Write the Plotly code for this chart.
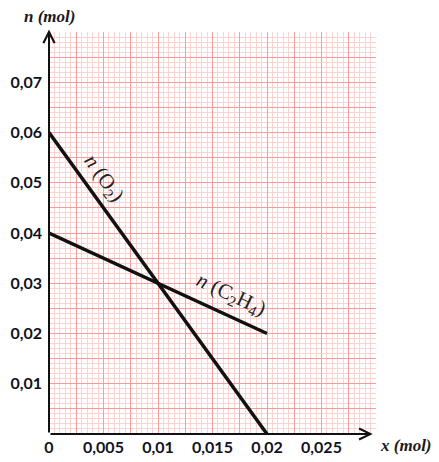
import plotly.graph_objects as go

# Data
x_vals = [0, 0.02]
n_O2 = [0.06, 0.0]
n_C2H4 = [0.04, 0.02]

x_tickvals = [0, 0.0025, 0.005, 0.0075, 0.01, 0.0125, 0.015, 0.0175, 0.02, 0.0225, 0.025, 0.0275, 0.03]
x_ticktext = ["0", "", "0,005", "", "0,01", "", "0,015", "", "0,02", "", "0,025", "", ""]
y_tickvals = [0, 0.005, 0.01, 0.015, 0.02, 0.025, 0.03, 0.035, 0.04, 0.045, 0.05, 0.055, 0.06, 0.065, 0.07, 0.075, 0.08]
y_ticktext = ["", "", "0,01", "", "0,02", "", "0,03", "", "0,04", "", "0,05", "", "0,06", "", "0,07", "", ""]

fig = go.Figure()
fig.add_trace(go.Scatter(x=x_vals, y=n_O2, mode="lines",
                         line=dict(color="#111111", width=3.5), showlegend=False))
fig.add_trace(go.Scatter(x=x_vals, y=n_C2H4, mode="lines",
                         line=dict(color="#111111", width=3.5), showlegend=False))

tickfont = dict(family="Lato", size=16, color="#111122", weight="bold")
major_grid = "#ff9a9a"
minor_grid = "#ffd2d2"

fig.update_xaxes(range=[0, 0.03], tickvals=x_tickvals, ticktext=x_ticktext,
                 showgrid=True, gridcolor=major_grid, gridwidth=1.4,
                 zeroline=False, showline=False, ticks="", tickfont=tickfont,
                 automargin=False, ticklabelstandoff=2,
                 minor=dict(tick0=0, dtick=0.0005, showgrid=True, gridcolor=minor_grid, gridwidth=1),
                 fixedrange=True)
fig.update_yaxes(range=[0, 0.08], tickvals=y_tickvals, ticktext=y_ticktext,
                 showgrid=True, gridcolor=major_grid, gridwidth=1.4,
                 zeroline=False, showline=False, ticks="", tickfont=tickfont,
                 automargin=False, ticklabelstandoff=6,
                 minor=dict(tick0=0, dtick=0.001, showgrid=True, gridcolor=minor_grid, gridwidth=1),
                 fixedrange=True)

# Axis arrows
fig.add_annotation(x=0, y=0.0805, ax=0, ay=0, xref="x", yref="y", axref="x", ayref="y",
                   text="", showarrow=True, arrowhead=5, arrowwidth=2, arrowsize=1.1,
                   arrowcolor="#111111", standoff=0, startstandoff=0)
fig.add_annotation(x=0.0297, y=0, ax=0, ay=0, xref="x", yref="y", axref="x", ayref="y",
                   text="", showarrow=True, arrowhead=5, arrowwidth=2, arrowsize=1.1,
                   arrowcolor="#111111", standoff=0, startstandoff=0)

# Axis titles
fig.add_annotation(xref="paper", yref="paper", x=0.0, y=1.0, xshift=0, yshift=16,
                   text="<b><i>n (mol)</i></b>", showarrow=False,
                   font=dict(family="Liberation Serif", size=17, color="#1a1a1a"),
                   xanchor="center", yanchor="middle")
fig.add_annotation(xref="paper", yref="paper", x=1.0, y=0.0, xshift=30, yshift=-11,
                   text="<b><i>x (mol)</i></b>", showarrow=False,
                   font=dict(family="Liberation Serif", size=17, color="#1a1a1a"),
                   xanchor="center", yanchor="middle")

# Line labels
fig.add_annotation(x=0.0050, y=0.0510, xref="x", yref="y", text="<i>n</i> (O<sub>2</sub>)",
                   showarrow=False, textangle=54,
                   font=dict(family="Liberation Serif", size=21, color="#222222"))
fig.add_annotation(x=0.0167, y=0.0276, xref="x", yref="y", text="<i>n</i> (C<sub>2</sub>H<sub>4</sub>)",
                   showarrow=False, textangle=25,
                   font=dict(family="Liberation Serif", size=21, color="#222222"))

# page body has a default 8px margin, so the figure is sized and offset to compensate
fig.update_layout(width=431, height=454, margin=dict(l=41, r=63, t=24, b=28),
                  plot_bgcolor="white", paper_bgcolor="white")

fig.write_html("out.html")
